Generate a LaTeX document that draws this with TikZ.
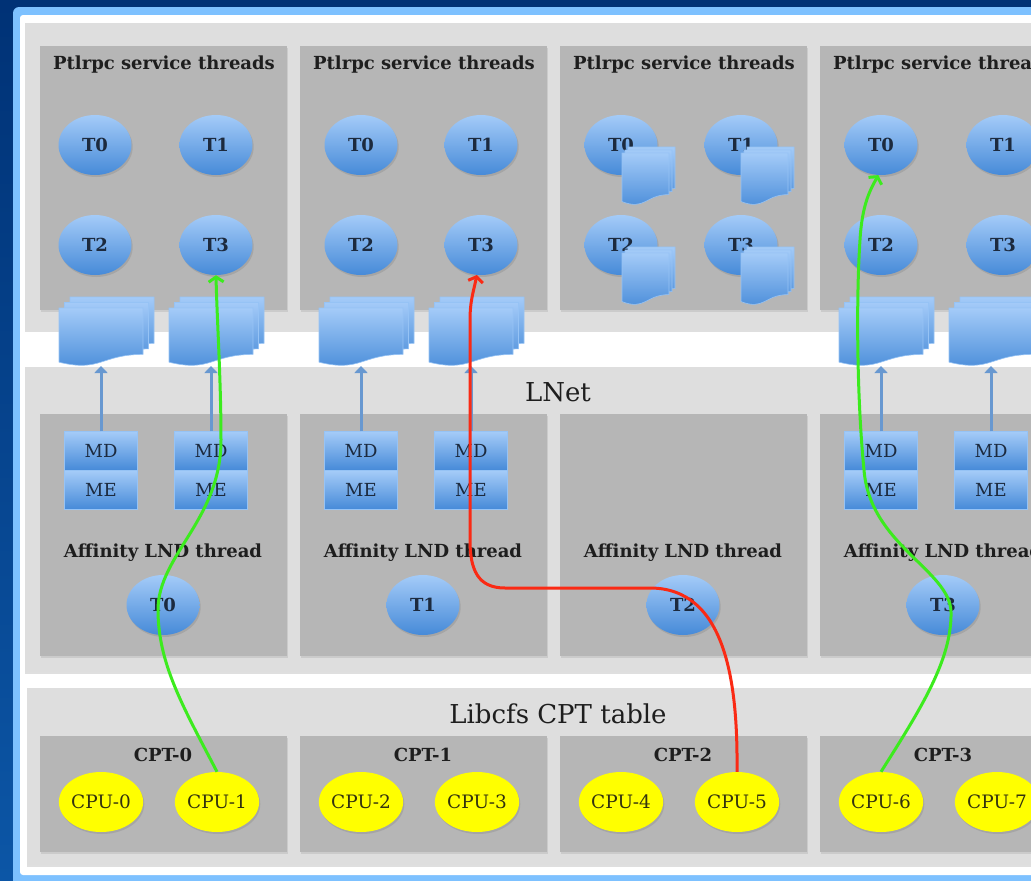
\documentclass[tikz,border=0pt]{standalone}
\usepackage{fontspec}
\setmainfont{DejaVu Serif}
\usetikzlibrary{arrows.meta,shadows,shapes.geometric}
\definecolor{bgtop}{RGB}{0,50,118}
\definecolor{bgbot}{RGB}{12,86,166}
\definecolor{frameblue}{RGB}{125,193,255}
\definecolor{bandgray}{RGB}{222,222,222}
\definecolor{panelgray}{RGB}{182,182,182}
\definecolor{bluelight}{RGB}{164,203,248}
\definecolor{bluedark}{RGB}{70,138,216}
\definecolor{docedge}{RGB}{150,195,245}
\definecolor{bluearrow}{RGB}{104,152,208}
\definecolor{txt}{RGB}{30,30,30}
\definecolor{ellipsetxt}{RGB}{28,42,62}
\definecolor{cpuyellow}{RGB}{255,255,0}
\definecolor{cputxt}{RGB}{50,50,15}
\definecolor{pathgreen}{RGB}{60,235,30}
\definecolor{pathred}{RGB}{250,42,20}
\tikzset{
  x=1pt, y=-1pt,
  band/.style={fill=bandgray, drop shadow={shadow xshift=0pt,shadow yshift=-2pt,opacity=0.25}},
  panel/.style={fill=panelgray, drop shadow={shadow xshift=1pt,shadow yshift=-1.5pt,opacity=0.2}},
  softshadow/.style={drop shadow={shadow xshift=1.2pt,shadow yshift=-2pt,opacity=0.3}},
  thread/.style={ellipse, minimum width=73pt, minimum height=60pt, inner sep=0pt,
    top color=bluelight, bottom color=bluedark, text=ellipsetxt,
    font=\fontsize{18}{20}\selectfont\bfseries, softshadow},
  cpu/.style={ellipse, minimum width=73pt, minimum height=60pt, inner sep=0pt,
    fill=cpuyellow, text=cputxt, font=\fontsize{18.5}{20}\selectfont, softshadow},
  mdbox/.style={rectangle, minimum width=73pt, minimum height=38.5pt, inner sep=0pt,
    top color=bluelight, bottom color=bluedark, draw=docedge, line width=0.6pt,
    text=ellipsetxt, font=\fontsize{18}{20}\selectfont},
  title/.style={font=\fontsize{18}{20}\selectfont\bfseries, text=txt},
  bigtitle/.style={font=\fontsize{26}{30}\selectfont, text=txt},
  docfill/.style={top color=bluelight, bottom color=bluedark, draw=docedge, line width=0.6pt},
  feed/.style={draw=bluearrow, line width=3pt, -{Triangle[length=7pt,width=13pt]}},
  flow/.style={line width=3pt, -{Straight Barb[length=5pt,width=15pt]}}
}
% document shape: x y w h (top-left, y downwards)
\newcommand{\docshape}[4]{%
  \path[docfill] ({#1},{#2}) -- ({#1+#3},{#2}) -- ({#1+#3},{#2+0.8*#4})
    .. controls ({#1+0.5*#3},{#2+0.8*#4}) and ({#1+0.5*#3},{#2+1.11*#4}) .. ({#1},{#2+0.934*#4}) -- cycle;}
% stack of three documents: front x y w h offset
\newcommand{\docstack}[5]{%
  \docshape{#1+2*#5}{#2-2*#5}{#3}{#4}%
  \docshape{#1+#5}{#2-#5}{#3}{#4}%
  \docshape{#1}{#2}{#3}{#4}}
\begin{document}
\begin{tikzpicture}
\useasboundingbox (0,0) rectangle (1031,881);
\clip (0,0) rectangle (1031,881);
% background and frame
\fill[top color=bgtop, bottom color=bgbot] (0,0) rectangle (1031,881);
\fill[frameblue, rounded corners=6pt] (13,7) rectangle (1060,900);
\fill[white, rounded corners=3pt] (20,15) rectangle (1055,875);
% bands
\path[band] (25,23) rectangle (1055,330);
\path[band] (25,367) rectangle (1055,672);
\path[band] (27,688) rectangle (1055,865);
% panels
\foreach \k in {0,1,2,3}{
  \path[panel] ({40+260*\k},46) rectangle ++(247,264);
  \path[panel] ({40+260*\k},414) rectangle ++(247,242);
  \path[panel] ({40+260*\k},736) rectangle ++(247,116);
  \node[title] (pt\k) at ({164+260*\k},65) {Ptlrpc service threads};
  \node[title] (lt\k) at ({163+260*\k},553) {Affinity LND thread};
  \node[thread] (l\k) at ({163+260*\k},605) {T\k};
  \node[title] (cpt\k) at ({163+260*\k},755) {CPT-\k};
  \pgfmathtruncatemacro{\ca}{2*\k}
  \pgfmathtruncatemacro{\cb}{2*\k+1}
  \node[cpu] (c\ca) at ({101+260*\k},802) {CPU-\ca};
  \node[cpu] (c\cb) at ({217+260*\k},802) {CPU-\cb};
}
\node[bigtitle] (lnet) at (558,392) {LNet};
\node[bigtitle] (libcfs) at (558,714) {Libcfs CPT table};
% service threads
\foreach \k/\xa/\xb in {0/95/216, 1/361/481, 2/621/741, 3/881/1003}{
  \node[thread] (p\k t0) at (\xa,145) {T0};
  \node[thread] (p\k t1) at (\xb,145) {T1};
  \node[thread] (p\k t2) at (\xa,245) {T2};
  \node[thread] (p\k t3) at (\xb,245) {T3};
}
% small document stacks on the third panel's threads
\docstack{622}{153}{47}{52}{3}
\docstack{741}{153}{47}{52}{3}
\docstack{622}{253}{47}{52}{3}
\docstack{741}{253}{47}{52}{3}
% MD/ME boxes, document stacks and feed arrows
\foreach \k in {0,1,3}{
  \node[mdbox] (md\k a) at ({40+260*\k+61},451) {MD};
  \node[mdbox] (me\k a) at ({40+260*\k+61},490) {ME};
  \node[mdbox] (md\k b) at ({40+260*\k+171},451) {MD};
  \node[mdbox] (me\k b) at ({40+260*\k+171},490) {ME};
  \docstack{40+260*\k+19}{308}{84}{58}{5.5}
  \docstack{40+260*\k+129}{308}{84}{58}{5.5}
  \coordinate (q\k a) at ({40+260*\k+61},366);
  \coordinate (q\k b) at ({40+260*\k+171},366);
  \draw[feed] (md\k a.north) -- (q\k a);
  \draw[feed] (md\k b.north) -- (q\k b);
}
% request paths
\coordinate (g1a) at (158,610);
\coordinate (g1b) at (221,440);
\draw[flow, pathgreen] (c1.north) .. controls (185,710) and (158,665) .. (g1a)
  .. controls (158,555) and (221,520) .. (g1b)
  .. controls (221,380) and (217,320) .. (p0t3.south);
\coordinate (r1) at (650,588);
\coordinate (r2) at (505,588);
\coordinate (r3) at (470,540);
\coordinate (r4) at (470,320);
\draw[flow, pathred] (c5.north) .. controls (738,680) and (725,588) .. (r1) -- (r2)
  .. controls (478,588) and (470,570) .. (r3) -- (r4)
  .. controls (470,300) and (474,290) .. (p1t3.-98);
\coordinate (g2a) at (951,612);
\coordinate (g2b) at (864,470);
\coordinate (g2c) at (860,240);
\draw[flow, pathgreen] (c6.north) .. controls (920,710) and (952,660) .. (g2a)
  .. controls (950,570) and (870,545) .. (g2b)
  .. controls (857,400) and (856,300) .. (g2c)
  .. controls (862,205) and (870,190) .. (p3t0.-95);
\end{tikzpicture}
\end{document}
